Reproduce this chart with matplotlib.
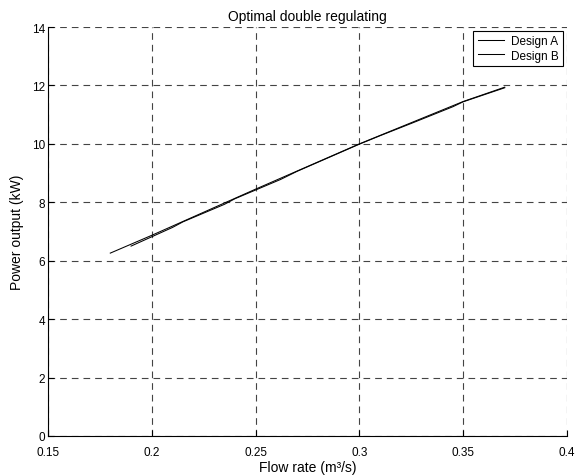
import matplotlib
matplotlib.use("Agg")
import matplotlib.pyplot as plt

plt.rcParams['font.family'] = ['Liberation Sans', 'DejaVu Sans']

# Design A: power output against flow rate
flow_a = [0.18, 0.20, 0.25, 0.30, 0.35, 0.37]
power_a = [6.26, 6.87, 8.45, 10.00, 11.45, 11.94]

# Design B: power output against flow rate
flow_b = [0.19, 0.21, 0.215, 0.235, 0.24, 0.262, 0.27, 0.30, 0.31, 0.325, 0.345, 0.35, 0.37]
power_b = [6.50, 7.14, 7.33, 7.93, 8.12, 8.78, 9.06, 9.99, 10.28, 10.70, 11.27, 11.44, 11.92]

x_ticks = [0.15, 0.2, 0.25, 0.3, 0.35, 0.4]
x_tick_labels = ['0.15', '0.2', '0.25', '0.3', '0.35', '0.4']
y_ticks = [0, 2, 4, 6, 8, 10, 12, 14]

fig = plt.figure(figsize=(5.85, 4.77), dpi=100)
ax = fig.add_axes([48 / 585, 1 - 437 / 477, (567 - 48) / 585, (437 - 28) / 477])

ax.plot(flow_a, power_a, color='black', lw=0.75, label='Design A', zorder=3)
ax.plot(flow_b, power_b, color='black', lw=0.75, label='Design B', zorder=3)

ax.set_xlim(0.15, 0.4)
ax.set_ylim(0, 14)
ax.set_xticks(x_ticks)
ax.set_xticklabels(x_tick_labels)
ax.set_yticks(y_ticks)

ax.grid(True, color='#444444', linestyle=(0, (6, 4.5)), lw=0.8)
for side in ('top', 'right'):
    ax.spines[side].set_visible(False)
for side in ('left', 'bottom'):
    ax.spines[side].set_linewidth(0.8)
    ax.spines[side].set_zorder(4)

ax.tick_params(direction='in', length=4, width=0.8, labelsize=8.5)
ax.tick_params(axis='x', pad=7)
ax.tick_params(axis='y', pad=2)

ax.set_title('Optimal double regulating', fontsize=10, pad=5)
ax.set_xlabel('Flow rate (m³/s)', fontsize=10, labelpad=2)
ax.set_ylabel('Power output (kW)', fontsize=10, labelpad=6)

leg = ax.legend(loc='upper right', fontsize=8.5, frameon=True, fancybox=False,
                handlelength=2.2, borderpad=0.4, labelspacing=0.2,
                borderaxespad=0.3, handletextpad=0.6)
leg.get_frame().set_edgecolor('black')
leg.get_frame().set_linewidth(0.8)
leg.get_frame().set_alpha(1)

fig.savefig('out.png', dpi=100)
